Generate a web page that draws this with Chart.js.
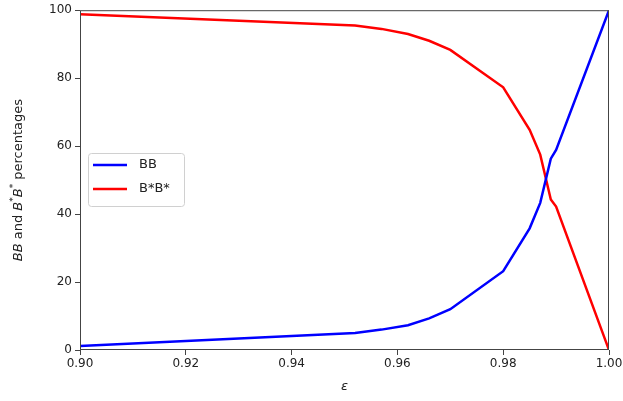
<!DOCTYPE html>
<html>
<head>
<meta charset="utf-8">
<script src="https://cdn.jsdelivr.net/npm/chart.js@4"></script>
<style>
  html, body { margin: 0; padding: 0; background: #fff; }
  #wrap { width: 623px; height: 401px; }
</style>
</head>
<body>
<div id="wrap"><canvas id="chart"></canvas></div>
<script>
// values
const epsilon = [0.90, 0.952, 0.957, 0.962, 0.966, 0.970, 0.980, 0.985, 0.987, 0.989, 0.990, 1.00];
const bbValues = [1.2, 5.0, 6.0, 7.3, 9.3, 12.0, 23.2, 35.8, 43.3, 56.3, 58.9, 100];
const bStarValues = [98.8, 95.5, 94.5, 93.0, 91.0, 88.3, 77.3, 64.8, 57.5, 44.3, 42.2, 0];
const xTicks = [0.90, 0.92, 0.94, 0.96, 0.98, 1.00];
const yTicks = [0, 20, 40, 60, 80, 100];

const FONT = "'DejaVu Sans', sans-serif";

function toPoints(xs, ys) {
    return xs.map((x, i) => ({ x: x, y: ys[i] }));
}

// frame, legend and the axis titles (mixed italic / superscript)
const extras = {
    id: 'extras',
    afterDraw(chart) {
        const ctx = chart.ctx;
        const a = chart.chartArea;
        ctx.save();

        // box around plot
        ctx.strokeStyle = '#444';
        ctx.lineWidth = 1;
        ctx.strokeRect(a.left + 0.5, a.top + 0.5, a.right - a.left - 1, a.bottom - a.top - 1);

        // legend
        const lx = 88, ly = 153, lw = 96, lh = 53;
        ctx.fillStyle = 'rgba(255,255,255,0.8)';
        ctx.strokeStyle = '#d0d0d0';
        ctx.beginPath();
        ctx.roundRect(lx + 0.5, ly + 0.5, lw, lh, 3);
        ctx.fill();
        ctx.stroke();
        const items = [['BB', '#0000ff', 165], ['B*B*', '#ff0000', 189]];
        ctx.font = '13px ' + FONT;
        ctx.textBaseline = 'middle';
        items.forEach(([label, color, y]) => {
            ctx.strokeStyle = color;
            ctx.lineWidth = 2.5;
            ctx.beginPath();
            ctx.moveTo(93, y);
            ctx.lineTo(127, y);
            ctx.stroke();
            ctx.fillStyle = '#222';
            ctx.fillText(label, 139, y);
        });

        // x title
        ctx.fillStyle = '#222';
        ctx.font = 'italic 13px ' + FONT;
        ctx.textAlign = 'center';
        ctx.textBaseline = 'middle';
        ctx.fillText('\u03b5', (a.left + a.right) / 2, 387);

        // y title, drawn rotated piece by piece
        const parts = [
            ['BB', 'italic 13px ' + FONT, 0],
            [' and ', '13px ' + FONT, 0],
            ['B', 'italic 13px ' + FONT, 0],
            ['*', '9px ' + FONT, -5],
            ['B', 'italic 13px ' + FONT, 0],
            ['*', '9px ' + FONT, -5],
            [' percentages', '13px ' + FONT, 0]
        ];
        let total = 0;
        parts.forEach(p => { ctx.font = p[1]; total += ctx.measureText(p[0]).width; });
        ctx.translate(19, (a.top + a.bottom) / 2);
        ctx.rotate(-Math.PI / 2);
        ctx.textAlign = 'left';
        let px = -total / 2;
        parts.forEach(p => {
            ctx.font = p[1];
            ctx.fillText(p[0], px, p[2]);
            px += ctx.measureText(p[0]).width;
        });
        ctx.restore();
    }
};

const chartContext = document.getElementById('chart').getContext('2d');
new Chart(chartContext, {
    type: 'scatter',
    data: {
        datasets: [
            {
                label: 'BB',
                data: toPoints(epsilon, bbValues),
                showLine: true,
                borderColor: '#0000ff',
                borderWidth: 2.5,
                pointRadius: 0,
                tension: 0
            },
            {
                label: 'B*B*',
                data: toPoints(epsilon, bStarValues),
                showLine: true,
                borderColor: '#ff0000',
                borderWidth: 2.5,
                pointRadius: 0,
                tension: 0
            }
        ]
    },
    options: {
        responsive: true,
        maintainAspectRatio: false,
        animation: false,
        layout: { padding: { top: 8, right: 14, left: 0, bottom: 0 } },
        plugins: {
            legend: { display: false },
            tooltip: { enabled: false }
        },
        scales: {
            x: {
                type: 'linear',
                min: 0.90,
                max: 1.00,
                afterBuildTicks: scale => { scale.ticks = xTicks.map(v => ({ value: v })); },
                afterFit: scale => {
                    scale.height = 51;
                    scale.paddingLeft = 0;
                    scale.paddingRight = 0;
                },
                ticks: {
                    color: '#222',
                    font: { family: FONT, size: 12 },
                    padding: 2,
                    maxRotation: 0,
                    callback: v => v.toFixed(2)
                },
                grid: { display: true, drawOnChartArea: false, drawTicks: true, tickLength: 5, color: '#444' },
                border: { display: false }
            },
            y: {
                min: 0,
                max: 100,
                afterBuildTicks: scale => { scale.ticks = yTicks.map(v => ({ value: v })); },
                afterFit: scale => { scale.width = 80; },
                ticks: {
                    color: '#222',
                    font: { family: FONT, size: 12 },
                    padding: 3
                },
                grid: { display: true, drawOnChartArea: false, drawTicks: true, tickLength: 5, color: '#444' },
                border: { display: false }
            }
        }
    },
    plugins: [extras]
});
</script>
</body>
</html>
